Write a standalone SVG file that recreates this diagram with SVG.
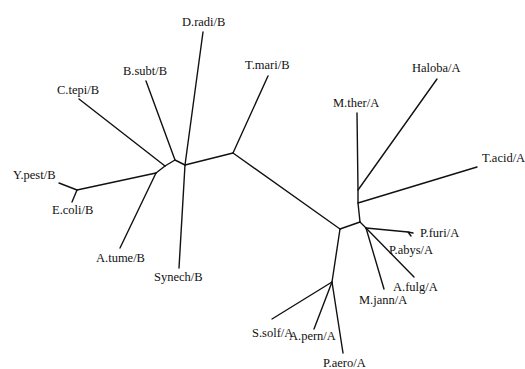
<svg xmlns="http://www.w3.org/2000/svg" width="525" height="369" viewBox="0 0 525 369">
  <style>
    .edge { stroke: #111; stroke-width: 1.4; fill: none; stroke-linecap: round; stroke-linejoin: round; }
    .lbl { font-family: "Liberation Serif", "Times New Roman", serif; font-size: 12.5px; fill: #111; }
  </style>
  <rect width="525" height="369" fill="#fff"/>

  <!-- tree branches -->
  <g id="edges">
    <!-- bacterial side -->
    <path class="edge" d="M79,99 L165,166"/>
    <path class="edge" d="M165,166 L175,160 L185,165"/>
    <path class="edge" d="M146,81 L175,160"/>
    <path class="edge" d="M203,32 L185,165"/>
    <path class="edge" d="M185,165 L179,268"/>
    <path class="edge" d="M185,165 L233,153"/>
    <path class="edge" d="M233,153 L268,76"/>
    <path class="edge" d="M165,166 L156,173"/>
    <path class="edge" d="M156,173 L120,248"/>
    <path class="edge" d="M156,173 L77,190"/>
    <path class="edge" d="M77,190 L59,183"/>
    <path class="edge" d="M77,190 L72,202"/>
    <!-- long internal branch -->
    <path class="edge" d="M233,153 L340,229"/>
    <!-- archaeal side -->
    <path class="edge" d="M340,229 L360,222"/>
    <path class="edge" d="M360,222 L358,203 L358,190 L357,113"/>
    <path class="edge" d="M358,203 L477,167"/>
    <path class="edge" d="M358,190 L437,79"/>
    <path class="edge" d="M360,222 L366,228"/>
    <path class="edge" d="M366,228 L408,232 L413,233"/>
    <path class="edge" d="M408,232 L411,236"/>
    <path class="edge" d="M366,228 L414,277"/>
    <path class="edge" d="M366,228 L384,289"/>
    <path class="edge" d="M340,229 L332,282"/>
    <path class="edge" d="M332,282 L272,319"/>
    <path class="edge" d="M332,282 L314,329"/>
    <path class="edge" d="M332,282 L343,353"/>
  </g>

  <!-- leaf labels -->
  <g id="D.radi"><text class="lbl" x="182" y="26">D.radi/B</text></g>
  <g id="B.subt"><text class="lbl" x="123" y="75">B.subt/B</text></g>
  <g id="C.tepi"><text class="lbl" x="57" y="93.5">C.tepi/B</text></g>
  <g id="T.mari"><text class="lbl" x="245" y="68.5">T.mari/B</text></g>
  <g id="Y.pest"><text class="lbl" x="13" y="179">Y.pest/B</text></g>
  <g id="E.coli"><text class="lbl" x="52" y="214">E.coli/B</text></g>
  <g id="A.tume"><text class="lbl" x="96" y="262">A.tume/B</text></g>
  <g id="Synech"><text class="lbl" x="154" y="281">Synech/B</text></g>
  <g id="Haloba"><text class="lbl" x="412" y="72">Haloba/A</text></g>
  <g id="M.ther"><text class="lbl" x="333" y="107">M.ther/A</text></g>
  <g id="T.acid"><text class="lbl" x="482" y="162">T.acid/A</text></g>
  <g id="P.furi"><text class="lbl" x="420" y="237">P.furi/A</text></g>
  <g id="P.abys"><text class="lbl" x="389" y="253.5">P.abys/A</text></g>
  <g id="A.fulg"><text class="lbl" x="393" y="290.5">A.fulg/A</text></g>
  <g id="M.jann"><text class="lbl" x="359" y="303.5">M.jann/A</text></g>
  <g id="S.solf"><text class="lbl" x="252" y="337">S.solf/A</text></g>
  <g id="A.pern"><text class="lbl" x="289" y="340">A.pern/A</text></g>
  <g id="P.aero"><text class="lbl" x="323" y="367">P.aero/A</text></g>
</svg>
